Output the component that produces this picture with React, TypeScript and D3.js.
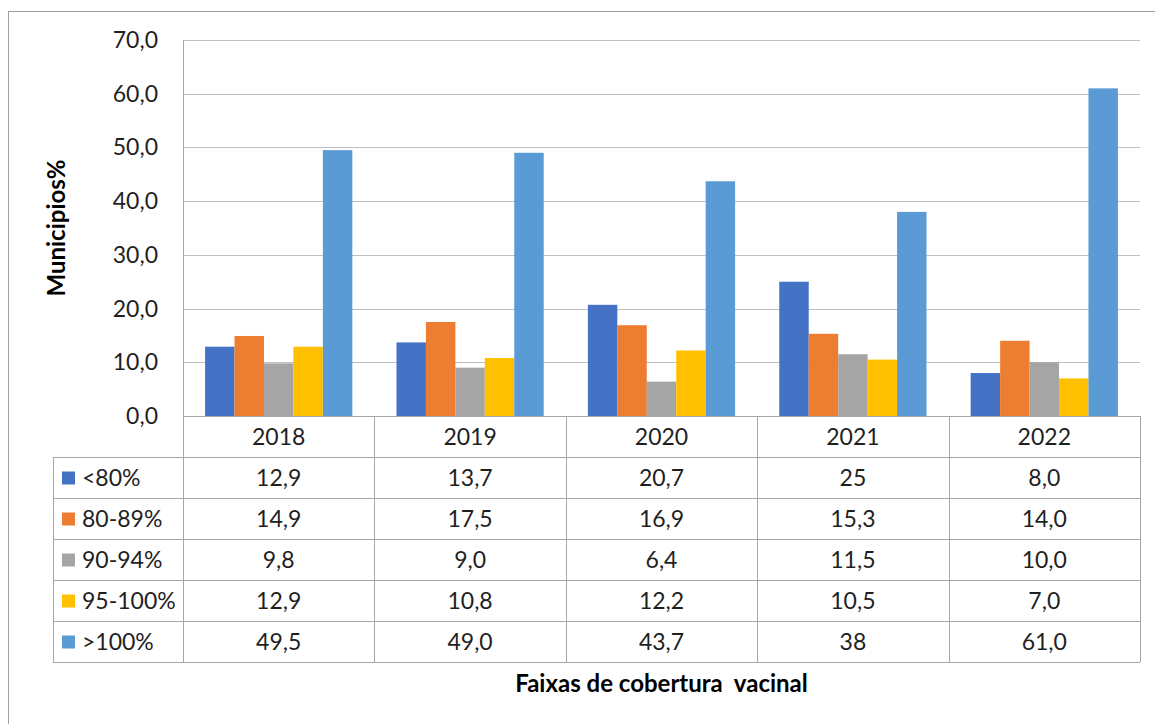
import React, { useEffect, useRef } from 'react';
import * as d3 from 'd3';

// anos (categorias do eixo X)
const years = ['2018', '2019', '2020', '2021', '2022'];

// faixas de cobertura
const series = ['<80%', '80-89%', '90-94%', '95-100%', '>100%'];
const colors = ['#4472C4', '#ED7D31', '#A5A5A5', '#FFC000', '#5B9BD5'];

// valores como aparecem na tabela de dados
const below80 = ['12,9', '13,7', '20,7', '25', '8,0'];
const r80to89 = ['14,9', '17,5', '16,9', '15,3', '14,0'];
const r90to94 = ['9,8', '9,0', '6,4', '11,5', '10,0'];
const r95to100 = ['12,9', '10,8', '12,2', '10,5', '7,0'];
const above100 = ['49,5', '49,0', '43,7', '38', '61,0'];

const yTicks = [0, 10, 20, 30, 40, 50, 60, 70];

const rows = [below80, r80to89, r90to94, r95to100, above100];
const toNum = (s: string) => +s.replace(',', '.');

const W = 1155;
const H = 724;

export default function App() {
  const svgRef = useRef<SVGSVGElement>(null);

  useEffect(() => {
    if (!svgRef.current) return;
    const svg = d3.select(svgRef.current);
    svg.selectAll('*').remove();

    const font = 'Lato, "Open Sans", sans-serif';
    const fs = '23px';
    const textColor = '#1f1f1f';
    const lineColor = '#A6A6A6';
    const gridColor = '#BFBFBF';

    const plot = { left: 183, right: 1140, top: 40, bottom: 416 };
    const rowH = 41;
    const legendLeft = 53;

    // borda externa (continua além das bordas direita/inferior)
    svg.append('rect')
      .attr('x', 8.5).attr('y', 11.5)
      .attr('width', W + 20).attr('height', H + 20)
      .attr('fill', 'white')
      .attr('stroke', '#A0A0A0');

    const x = d3.scaleBand().domain(years).range([plot.left, plot.right]);
    const xs = d3.scaleBand().domain(series).range([0, x.bandwidth()])
      .paddingInner(0).paddingOuter(0.75);
    const y = d3.scaleLinear().domain([0, 70]).range([plot.bottom, plot.top]);

    // gridlines
    svg.append('g').selectAll('line')
      .data(yTicks.filter(t => t > 0))
      .join('line')
      .attr('x1', plot.left).attr('x2', plot.right)
      .attr('y1', d => Math.round(y(d)) + 0.5).attr('y2', d => Math.round(y(d)) + 0.5)
      .attr('stroke', gridColor);

    // y tick labels
    svg.append('g').selectAll('text')
      .data(yTicks)
      .join('text')
      .attr('x', 158)
      .attr('y', d => y(d))
      .attr('dy', '0.35em')
      .attr('text-anchor', 'end')
      .style('font-family', font)
      .style('font-size', fs)
      .style('fill', textColor)
      .text(d => d3.format('.1f')(d).replace('.', ','));

    // barras
    series.forEach((s, i) => {
      svg.append('g').selectAll('rect')
        .data(years.map((yr, j) => ({ yr, v: toNum(rows[i][j]) })))
        .join('rect')
        .attr('x', d => (x(d.yr) || 0) + (xs(s) || 0))
        .attr('y', d => y(d.v))
        .attr('width', xs.bandwidth())
        .attr('height', d => y(0) - y(d.v))
        .attr('fill', colors[i]);
    });

    // linhas da tabela de dados
    const tbl = svg.append('g').attr('stroke', lineColor).attr('shape-rendering', 'crispEdges');
    const tableBottom = plot.bottom + rowH * (series.length + 1);
    tbl.append('line')
      .attr('x1', plot.left).attr('x2', plot.right)
      .attr('y1', plot.bottom + 0.5).attr('y2', plot.bottom + 0.5);
    d3.range(1, series.length + 2).forEach(k => {
      const yy = plot.bottom + rowH * k + 0.5;
      tbl.append('line').attr('x1', legendLeft).attr('x2', plot.right).attr('y1', yy).attr('y2', yy);
    });
    tbl.append('line')
      .attr('x1', plot.left + 0.5).attr('x2', plot.left + 0.5)
      .attr('y1', plot.top).attr('y2', tableBottom);
    years.forEach(yr => {
      const xx = Math.round((x(yr) || 0) + x.bandwidth()) + 0.5;
      tbl.append('line').attr('x1', xx).attr('x2', xx).attr('y1', plot.bottom).attr('y2', tableBottom);
    });
    tbl.append('line')
      .attr('x1', legendLeft + 0.5).attr('x2', legendLeft + 0.5)
      .attr('y1', plot.bottom + rowH).attr('y2', tableBottom);

    // cabeçalho com os anos
    svg.append('g').selectAll('text')
      .data(years)
      .join('text')
      .attr('x', d => (x(d) || 0) + x.bandwidth() / 2)
      .attr('y', plot.bottom + rowH / 2)
      .attr('dy', '0.35em')
      .attr('text-anchor', 'middle')
      .style('font-family', font)
      .style('font-size', fs)
      .style('fill', textColor)
      .text(d => d);

    // linhas: chave da legenda + valores
    series.forEach((s, i) => {
      const cy = plot.bottom + rowH * (i + 1) + rowH / 2;
      const g = svg.append('g');
      g.append('rect')
        .attr('x', 62).attr('y', cy - 6)
        .attr('width', 13).attr('height', 13)
        .attr('fill', colors[i]);
      g.append('text')
        .attr('x', 82).attr('y', cy).attr('dy', '0.35em')
        .style('font-family', font).style('font-size', fs).style('fill', textColor)
        .text(s);
      g.selectAll('text.val')
        .data(rows[i])
        .join('text')
        .attr('class', 'val')
        .attr('x', (_, j) => (x(years[j]) || 0) + x.bandwidth() / 2)
        .attr('y', cy).attr('dy', '0.35em')
        .attr('text-anchor', 'middle')
        .style('font-family', font).style('font-size', fs).style('fill', textColor)
        .text(d => d);
    });

    // títulos dos eixos
    svg.append('text')
      .attr('transform', `translate(65,${(plot.top + plot.bottom) / 2}) rotate(-90)`)
      .attr('text-anchor', 'middle')
      .style('font-family', font).style('font-size', '24px').style('font-weight', 'bold')
      .style('fill', 'black')
      .text('Municipios%');

    svg.append('text')
      .attr('x', (plot.left + plot.right) / 2)
      .attr('y', 684).attr('dy', '0.35em')
      .attr('text-anchor', 'middle')
      .attr('xml:space', 'preserve')
      .style('white-space', 'pre')
      .style('font-family', font).style('font-size', '24px').style('font-weight', 'bold')
      .style('fill', 'black')
      .text('Faixas de cobertura  vacinal');
  }, []);

  return (
    <svg
      ref={svgRef}
      width={W}
      height={H}
      style={{ position: 'absolute', left: 0, top: 0, background: 'white' }}
    />
  );
}
